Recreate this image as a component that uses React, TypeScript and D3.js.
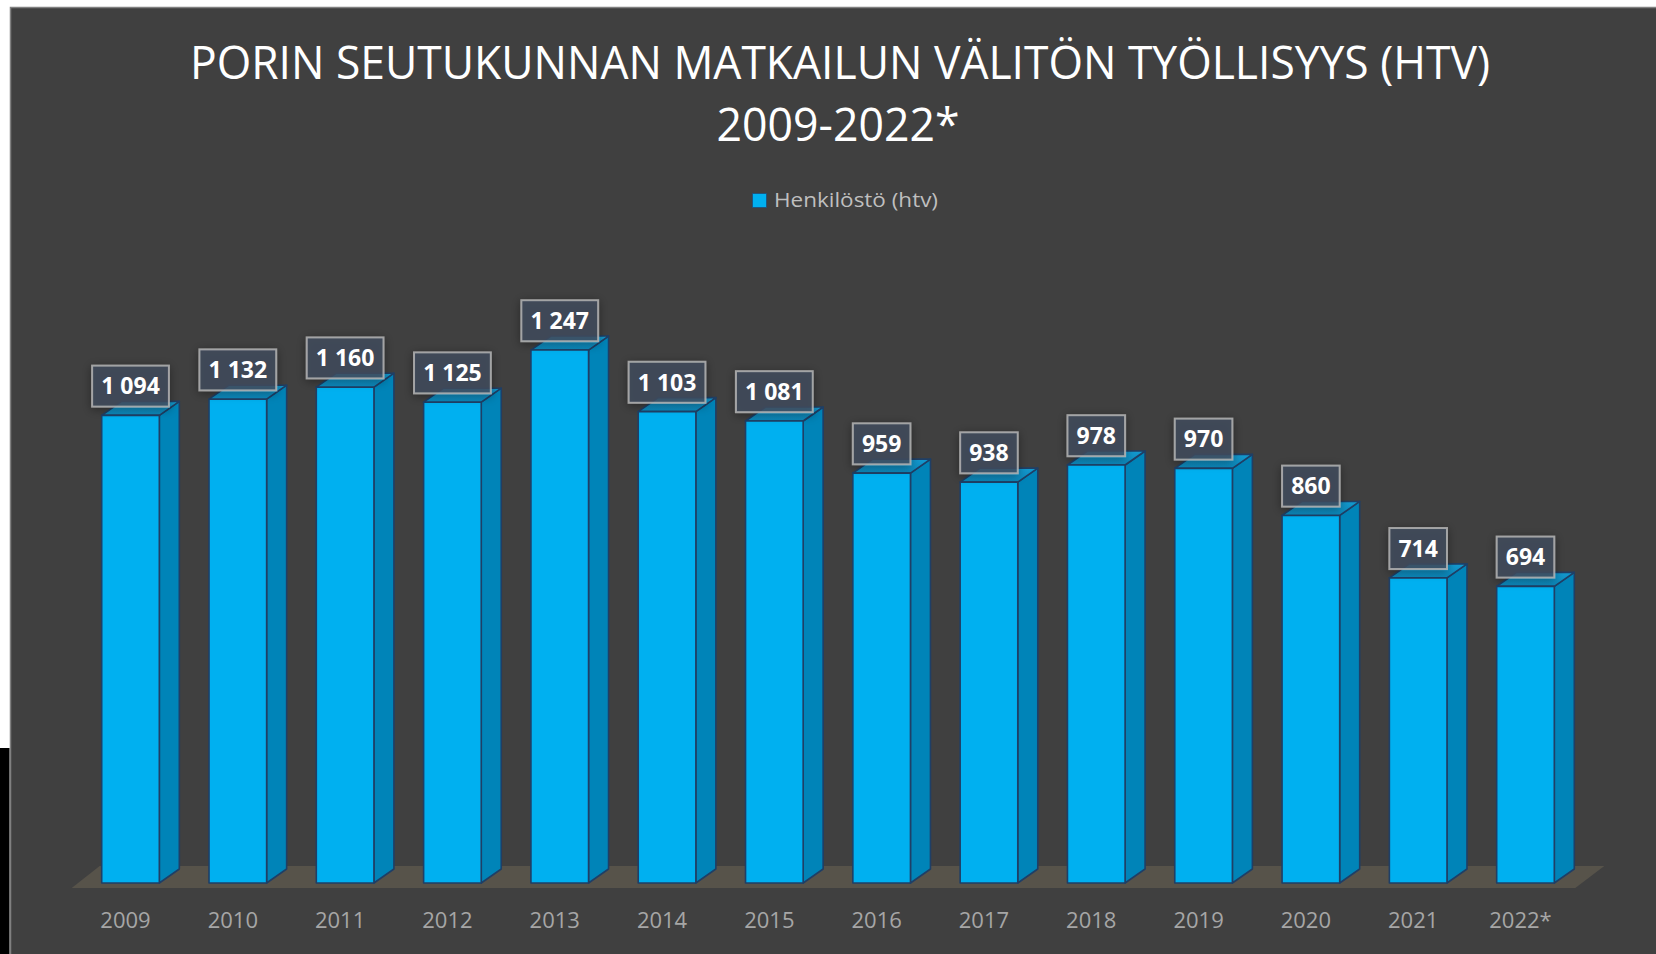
import React from 'react';
import * as d3 from 'd3';

const years = ['2009', '2010', '2011', '2012', '2013', '2014', '2015', '2016', '2017', '2018', '2019', '2020', '2021', '2022*'];
const values = [1094, 1132, 1160, 1125, 1247, 1103, 1081, 959, 938, 978, 970, 860, 714, 694];
const titleLines = ['PORIN SEUTUKUNNAN MATKAILUN VÄLITÖN TYÖLLISYYS (HTV)', '2009-2022*'];
const seriesName = 'Henkilöstö (htv)';

const W = 1656;
const H = 954;
const baseY = 883;
const dX = 20;
const dY = 14;

const fiLocale = d3.formatLocale({ decimal: ',', thousands: ' ', grouping: [3], currency: ['', ' €'] });
const fmt = fiLocale.format(',d');

export default function App() {
  const x = d3.scaleBand<string>().domain(years).range([101.7, 1554.3]).paddingInner(0.463).paddingOuter(0);
  const y = d3.scaleLinear().domain([0, 1000]).range([baseY, baseY - 427.4]);
  const [x0, x1] = x.range();
  const bw = x.bandwidth();
  const font = "'Open Sans', 'DejaVu Sans', sans-serif";

  const floor = [
    [x0 - 30, 888],
    [x1 + 21, 888],
    [x1 + 50, 866],
    [x0 - 2, 866],
  ];

  return (
    <svg width={W} height={H} viewBox={`0 0 ${W} ${H}`} style={{ position: 'absolute', left: 0, top: 0, display: 'block' }}>
      <defs>
        <filter id="boxShadow" x="-40%" y="-40%" width="180%" height="180%">
          <feDropShadow dx="0" dy="2" stdDeviation="5" floodColor="#000" floodOpacity="0.45" />
        </filter>
        <linearGradient id="topGrad" x1="0" y1="1" x2="0" y2="0">
          <stop offset="0" stopColor="#0b86b8" />
          <stop offset="1" stopColor="#139ad0" />
        </linearGradient>
      </defs>
      <rect x={0} y={0} width={W} height={H} fill="#ffffff" />
      <rect x={10.5} y={7.5} width={W} height={H} fill="#404040" stroke="#808080" strokeWidth={1.5} />
      <rect x={0} y={748} width={9.5} height={H - 748} fill="#000000" />

      {/* Title */}
      <text x={840} y={78.7} textAnchor="middle" fill="#ffffff" fontFamily={font} fontSize={46}
        textLength={1300} lengthAdjust="spacingAndGlyphs">{titleLines[0]}</text>
      <text x={838} y={140.7} textAnchor="middle" fill="#ffffff" fontFamily={font} fontSize={46}
        textLength={243} lengthAdjust="spacingAndGlyphs">{titleLines[1]}</text>

      {/* Legend */}
      <rect x={752.5} y={193.5} width={14} height={14} fill="#00b0f0" stroke="#1f4e79" strokeWidth={0.8} />
      <text x={774} y={207.3} fill="#bfbfbf" fontFamily={font} fontSize={20} textLength={164} lengthAdjust="spacingAndGlyphs">{seriesName}</text>

      {/* Floor */}
      <polygon points={floor.map((p) => p.join(',')).join(' ')} fill="#57534a" />

      {/* Bars */}
      {years.map((yr, i) => {
        const bx = x(yr) as number;
        const top = y(values[i]);
        const front = `${bx},${top} ${bx + bw},${top} ${bx + bw},${baseY} ${bx},${baseY}`;
        const side = `${bx + bw},${top} ${bx + bw + dX},${top - dY} ${bx + bw + dX},${baseY - dY} ${bx + bw},${baseY}`;
        const topFace = `${bx},${top} ${bx + dX},${top - dY} ${bx + bw + dX},${top - dY} ${bx + bw},${top}`;
        return (
          <g key={yr} stroke="#1f3f66" strokeWidth={1.6} strokeLinejoin="round">
            <polygon points={side} fill="#0084b8" />
            <polygon points={topFace} fill="url(#topGrad)" />
            <polygon points={front} fill="#00b0f0" />
          </g>
        );
      })}

      {/* Data labels */}
      {years.map((yr, i) => {
        const cx = (x(yr) as number) + bw / 2;
        const top = y(values[i]);
        const label = fmt(values[i]);
        const digits = label.replace(/\s/g, '').length;
        const spaces = label.length - digits;
        const tw = digits * 13.2 + spaces * 6;
        const bwid = tw + 18;
        const bh = 41;
        const by = top - 8.8 - bh;
        return (
          <g key={`lbl-${yr}`}>
            <rect x={cx - bwid / 2} y={by} width={bwid} height={bh} fill="#414d5f" fillOpacity={0.8}
              stroke="#b4b4b4" strokeOpacity={0.85} strokeWidth={2} filter="url(#boxShadow)" />
            <text x={cx} y={by + bh / 2 + 8.3} textAnchor="middle" fill="#ffffff" fontFamily={font}
              fontWeight={700} fontSize={23}>{label}</text>
          </g>
        );
      })}

      {/* Category axis labels */}
      {years.map((yr) => {
        const cx = (x(yr) as number) + bw / 2 - 5;
        return (
          <text key={`ax-${yr}`} x={cx} y={928} textAnchor="middle" fill="#a6a6a6" fontFamily={font} fontSize={22}>{yr}</text>
        );
      })}
    </svg>
  );
}
